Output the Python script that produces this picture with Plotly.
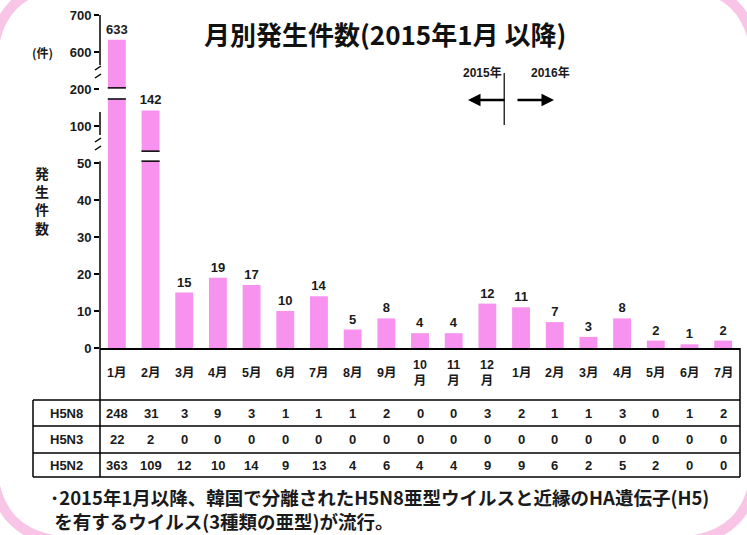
import numpy as np
import plotly.graph_objects as go

# ---------------- data ----------------
months = ["1月", "2月", "3月", "4月", "5月", "6月", "7月", "8月", "9月", "10<br>月", "11<br>月", "12<br>月",
          "1月", "2月", "3月", "4月", "5月", "6月", "7月"]
h5n8 = [248, 31, 3, 9, 3, 1, 1, 1, 2, 0, 0, 3, 2, 1, 1, 3, 0, 1, 2]
h5n3 = [22, 2, 0, 0, 0, 0, 0, 0, 0, 0, 0, 0, 0, 0, 0, 0, 0, 0, 0]
h5n2 = [363, 109, 12, 10, 14, 9, 13, 4, 6, 4, 4, 9, 9, 6, 2, 5, 2, 0, 0]
totals = [633, 142, 15, 19, 17, 10, 14, 5, 8, 4, 4, 12, 11, 7, 3, 8, 2, 1, 2]
row_names = ["H5N8", "H5N3", "H5N2"]
tick_values = [0, 10, 20, 30, 40, 50, 100, 200, 600, 700]
# broken-axis knots: real value -> axis position
knot_real = [0, 50, 100, 200, 600, 700]
knot_pos = [0, 5, 6, 7, 8, 9]

def T(v):
    return np.interp(np.asarray(v, dtype=float), knot_real, knot_pos)

# ---------------- geometry helpers (pixel -> paper) ----------------
W, H = 747, 535
L, R, TOP, BOT = 100, 740, 15, 348
def px(p):
    return (p - L) / (R - L)
def py(p):
    return (BOT - p) / (BOT - TOP)

JP = "Noto Sans CJK JP"
NUM = "Liberation Sans, Noto Sans CJK JP"
INK = "#1a1a1a"
idx = list(range(len(months)))

fig = go.Figure()
fig.add_trace(go.Bar(
    x=idx, y=T(totals), customdata=totals,
    text=[str(t) for t in totals], textposition="outside", constraintext="none",
    textfont=dict(family=NUM, size=13, color=INK, weight="bold"),
    marker=dict(color="#F792EE", line=dict(width=0)),
    width=0.53, cliponaxis=False,
    hovertemplate="%{customdata}<extra></extra>",
))

shapes = []
annotations = []

def ann(x, y, text, font, xref="paper", yref="paper", xanchor="center", yanchor="middle", align="center"):
    annotations.append(dict(x=x, y=y, xref=xref, yref=yref, text=text, showarrow=False,
                            xanchor=xanchor, yanchor=yanchor, align=align, font=font))

# y-axis line segments (with breaks) in axis positions
for y0, y1 in [(7.65, 9.0), (5.76, 6.38), (0.0, 5.05)]:
    shapes.append(dict(type="line", xref="paper", yref="y", x0=0, x1=0, y0=y0, y1=y1,
                       line=dict(color="black", width=1.5)))
# axis break marks
for p in [68, 76, 140, 148]:
    shapes.append(dict(type="line", xref="paper", yref="paper",
                       x0=px(95), x1=px(101), y0=py(p + 2), y1=py(p - 2),
                       line=dict(color="black", width=1.5)))
# break marks on tall bars
for bi, b0, b1 in [(0, 6.73, 7.03), (1, 5.05, 5.32)]:
    shapes.append(dict(type="rect", xref="x", yref="y", x0=bi - 0.28, x1=bi + 0.28, y0=b0, y1=b1,
                       fillcolor="white", line=dict(width=0)))
    for yy in (b0, b1):
        shapes.append(dict(type="line", xref="x", yref="y", x0=bi - 0.27, x1=bi + 0.27, y0=yy, y1=yy,
                           line=dict(color="black", width=1.5)))

# table frame
shapes.append(dict(type="line", xref="paper", yref="paper", x0=0, x1=0, y0=py(BOT), y1=py(477),
                   line=dict(color="black", width=1.5)))
shapes.append(dict(type="line", xref="paper", yref="paper", x0=1, x1=1, y0=py(BOT), y1=py(477),
                   line=dict(color="black", width=1.5)))
shapes.append(dict(type="line", xref="paper", yref="paper", x0=px(33), x1=px(33), y0=py(400), y1=py(477),
                   line=dict(color="black", width=1.5)))
for p in [400, 426, 453, 477]:
    shapes.append(dict(type="line", xref="paper", yref="paper", x0=px(33), x1=1, y0=py(p), y1=py(p),
                       line=dict(color="black", width=1.5)))

# year separator
shapes.append(dict(type="line", xref="x", yref="paper", x0=11.5, x1=11.5, y0=py(73), y1=py(125),
                   line=dict(color="black", width=1.2)))

# pink rounded frame (only corners visible)
x0f, x1f, y0f, y1f, rr = -8, 756, -16, 542, 85
def P(x, y):
    return f"{px(x):.5f},{py(y):.5f}"
path = (f"M {P(x0f + rr, y0f)} L {P(x1f - rr, y0f)} Q {P(x1f, y0f)} {P(x1f, y0f + rr)} "
        f"L {P(x1f, y1f - rr)} Q {P(x1f, y1f)} {P(x1f - rr, y1f)} "
        f"L {P(x0f + rr, y1f)} Q {P(x0f, y1f)} {P(x0f, y1f - rr)} "
        f"L {P(x0f, y0f + rr)} Q {P(x0f, y0f)} {P(x0f + rr, y0f)} Z")
shapes.append(dict(type="path", xref="paper", yref="paper", path=path,
                   line=dict(color="rgba(242,140,205,0.5)", width=10), layer="below"))

# month labels
for i, m in enumerate(months):
    ann(i, py(373), m, dict(family=NUM, size=12.5, color=INK, weight="bold"), xref="x")
# table rows
for r, (name, vals) in enumerate(zip(row_names, [h5n8, h5n3, h5n2])):
    yc = py(413 + r * 26.3)
    ann(px(66), yc, name, dict(family=NUM, size=13, color=INK, weight="bold"))
    for i, v in enumerate(vals):
        ann(i, yc, str(v), dict(family=NUM, size=13, color=INK, weight="bold"), xref="x")

# title & labels
ann(px(385), py(33), "月別発生件数(2015年1月 以降)", dict(family=JP, size=26, color="#111111", weight="bold"))
ann(px(42), py(52), "(件)", dict(family=JP, size=12, color=INK, weight="bold"))
ann(px(42), py(200), "発<br>生<br>件<br>数", dict(family=JP, size=14, color=INK, weight="bold"))
ann(px(482), py(72), "2015年", dict(family=NUM, size=12, color=INK, weight="bold"))
ann(px(550), py(72), "2016年", dict(family=NUM, size=12, color=INK, weight="bold"))
# arrows
annotations.append(dict(x=px(468), y=py(100), xref="paper", yref="paper", ax=38, ay=0, text="",
                        showarrow=True, arrowhead=2, arrowsize=1, arrowwidth=2.5, arrowcolor="black"))
annotations.append(dict(x=px(554), y=py(100), xref="paper", yref="paper", ax=-38, ay=0, text="",
                        showarrow=True, arrowhead=2, arrowsize=1, arrowwidth=2.5, arrowcolor="black"))
# footnote (two lines in one text block)
ann(px(48), py(509),
    "･2015年1月以降、韓国で分離されたH5N8亜型ウイルスと近縁のHA遺伝子(H5)<br>"
    "&nbsp;を有するウイルス(3種類の亜型)が流行。",
    dict(family=JP, size=18.5, color=INK, weight="bold"), xanchor="left", align="left")

fig.update_layout(
    width=W, height=H,
    margin=dict(l=L, r=W - R, t=TOP, b=H - BOT),
    paper_bgcolor="white", plot_bgcolor="white",
    showlegend=False, bargap=0.4,
    shapes=shapes, annotations=annotations,
    xaxis=dict(range=[-0.5, len(months) - 0.5], showticklabels=False, ticks="",
               showline=True, linecolor="black", linewidth=2, showgrid=False, zeroline=False,
               fixedrange=True),
    yaxis=dict(range=[0, 9], tickvals=T(tick_values), ticktext=[str(v) for v in tick_values],
               ticks="outside", ticklen=5, tickcolor="black", tickwidth=1.5,
               tickfont=dict(family=NUM, size=13, color=INK, weight="bold"),
               showline=False, showgrid=False, zeroline=False, fixedrange=True),
)

fig.write_html("out.html", config={"displayModeBar": False},
               post_script="document.body.style.margin='0';document.body.style.padding='0';")
